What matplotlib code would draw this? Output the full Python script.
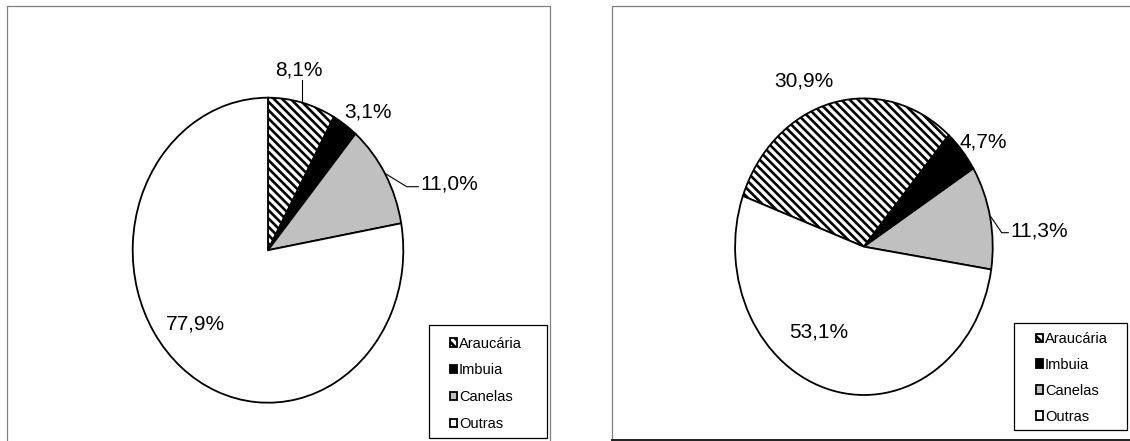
import matplotlib
matplotlib.use("Agg")
import matplotlib.pyplot as plt
import numpy as np
from matplotlib.patches import Rectangle

plt.rcParams['font.family'] = ['Liberation Sans', 'DejaVu Sans']
plt.rcParams['hatch.linewidth'] = 1.9

# Species shares (%) in the two forest surveys
species = ["Araucária", "Imbuia", "Canelas", "Outras"]
share_left = [8.1, 3.1, 11.0, 77.9]
share_right = [30.9, 4.7, 11.3, 53.1]

fills = ["white", "black", "#c0c0c0", "white"]
hatches = ["\\\\\\\\", None, None, None]

W, H = 1130, 441
fig = plt.figure(figsize=(W / 100, H / 100), dpi=100)

# Overlay axes in pixel units (y grows downward) for frames, labels and leaders
over = fig.add_axes([0, 0, 1, 1], zorder=5)
over.set_xlim(0, W)
over.set_ylim(H, 0)
over.axis('off')
over.patch.set_alpha(0)


def pie_axes(cx, cy, rx, ry, m=1.03):
    ax = fig.add_axes([(cx - rx * m) / W, 1 - (cy + ry * m) / H,
                       2 * rx * m / W, 2 * ry * m / H], zorder=2)
    ax.set_xlim(-m, m)
    ax.set_ylim(-m, m)
    return ax, m


def draw_pie(cx, cy, rx, ry, values, startangle):
    ax, m = pie_axes(cx, cy, rx, ry)
    wedges, _ = ax.pie(values, startangle=startangle, counterclock=False,
                       colors=fills, radius=1,
                       wedgeprops=dict(edgecolor='black', linewidth=1.3))
    for w, h in zip(wedges, hatches):
        if h:
            w.set_hatch(h)
    ax.set_aspect('auto')
    ax.set_xlim(-m, m)
    ax.set_ylim(-m, m)
    ax.axis('off')
    return ax, wedges


def arc_point(ax, wedge):
    mid = np.deg2rad((wedge.theta1 + wedge.theta2) / 2)
    disp = ax.transData.transform((np.cos(mid) * wedge.r, np.sin(mid) * wedge.r))
    return over.transData.inverted().transform(disp)


def pct(v):
    return f"{v:.1f}%".replace('.', ',')


LABEL_FS = 15

# Panel frames
grey = '#808080'
over.plot([7, 7, 550, 550], [450, 6, 6, 450], color=grey, lw=0.9)
over.plot([612, 612, 1135], [439.5, 6, 6], color=grey, lw=0.9)
over.plot([612, 1135], [439.5, 439.5], color='#202020', lw=1.4)

# ---- Left pie ----
axL, wL = draw_pie(268, 250.2, 135.3, 152.5, share_left, 90)

x0, y0 = arc_point(axL, wL[0])
over.plot([x0, x0], [y0 - 1, 79.5], color='black', lw=0.8)
over.text(299, 76, pct(share_left[0]), ha='center', va='baseline', fontsize=LABEL_FS)
over.text(368, 118, pct(share_left[1]), ha='center', va='baseline', fontsize=LABEL_FS)
x2, y2 = arc_point(axL, wL[2])
over.plot([x2 + 1, 406.7, 418.3], [y2, 186.7, 186.7], color='black', lw=0.8)
over.text(420.5, 189, pct(share_left[2]), ha='left', va='baseline', fontsize=LABEL_FS)
over.text(195.5, 329, pct(share_left[3]), ha='center', va='baseline', fontsize=LABEL_FS)

# ---- Right pie ----
axR, wR = draw_pie(863.9, 246.7, 128.8, 148.3, share_right, 160)

over.text(804, 86.7, pct(share_right[0]), ha='center', va='baseline', fontsize=LABEL_FS)
over.text(983.3, 147.3, pct(share_right[1]), ha='center', va='baseline', fontsize=LABEL_FS)
x2, y2 = arc_point(axR, wR[2])
over.plot([x2 + 1, 1001.7, 1008.3], [y2, 232.7, 232.7], color='black', lw=0.8)
over.text(1010.5, 236.5, pct(share_right[2]), ha='left', va='baseline', fontsize=LABEL_FS)
over.text(818.7, 338, pct(share_right[3]), ha='center', va='baseline', fontsize=LABEL_FS)


# ---- Legends ----
def add_legend(wedges, x_marker, y_center, spacing, box):
    fig.legend(wedges, species, loc='center left',
               bbox_to_anchor=(x_marker, y_center), bbox_transform=over.transData,
               frameon=False, fontsize=10.5, handlelength=0.5, handleheight=0.5,
               handletextpad=0.15, labelspacing=spacing, borderpad=0,
               borderaxespad=0)
    bx, by, bw, bh = box
    over.add_patch(Rectangle((bx, by), bw, bh, fill=False, ec='black', lw=0.9))


add_legend(wL, 449.5, 383.9, 0.88, (429, 325, 118, 113))
add_legend(wR, 1035.5, 377.8, 0.82, (1014, 323, 113, 107))

fig.savefig("out.png", dpi=100, facecolor='white')
